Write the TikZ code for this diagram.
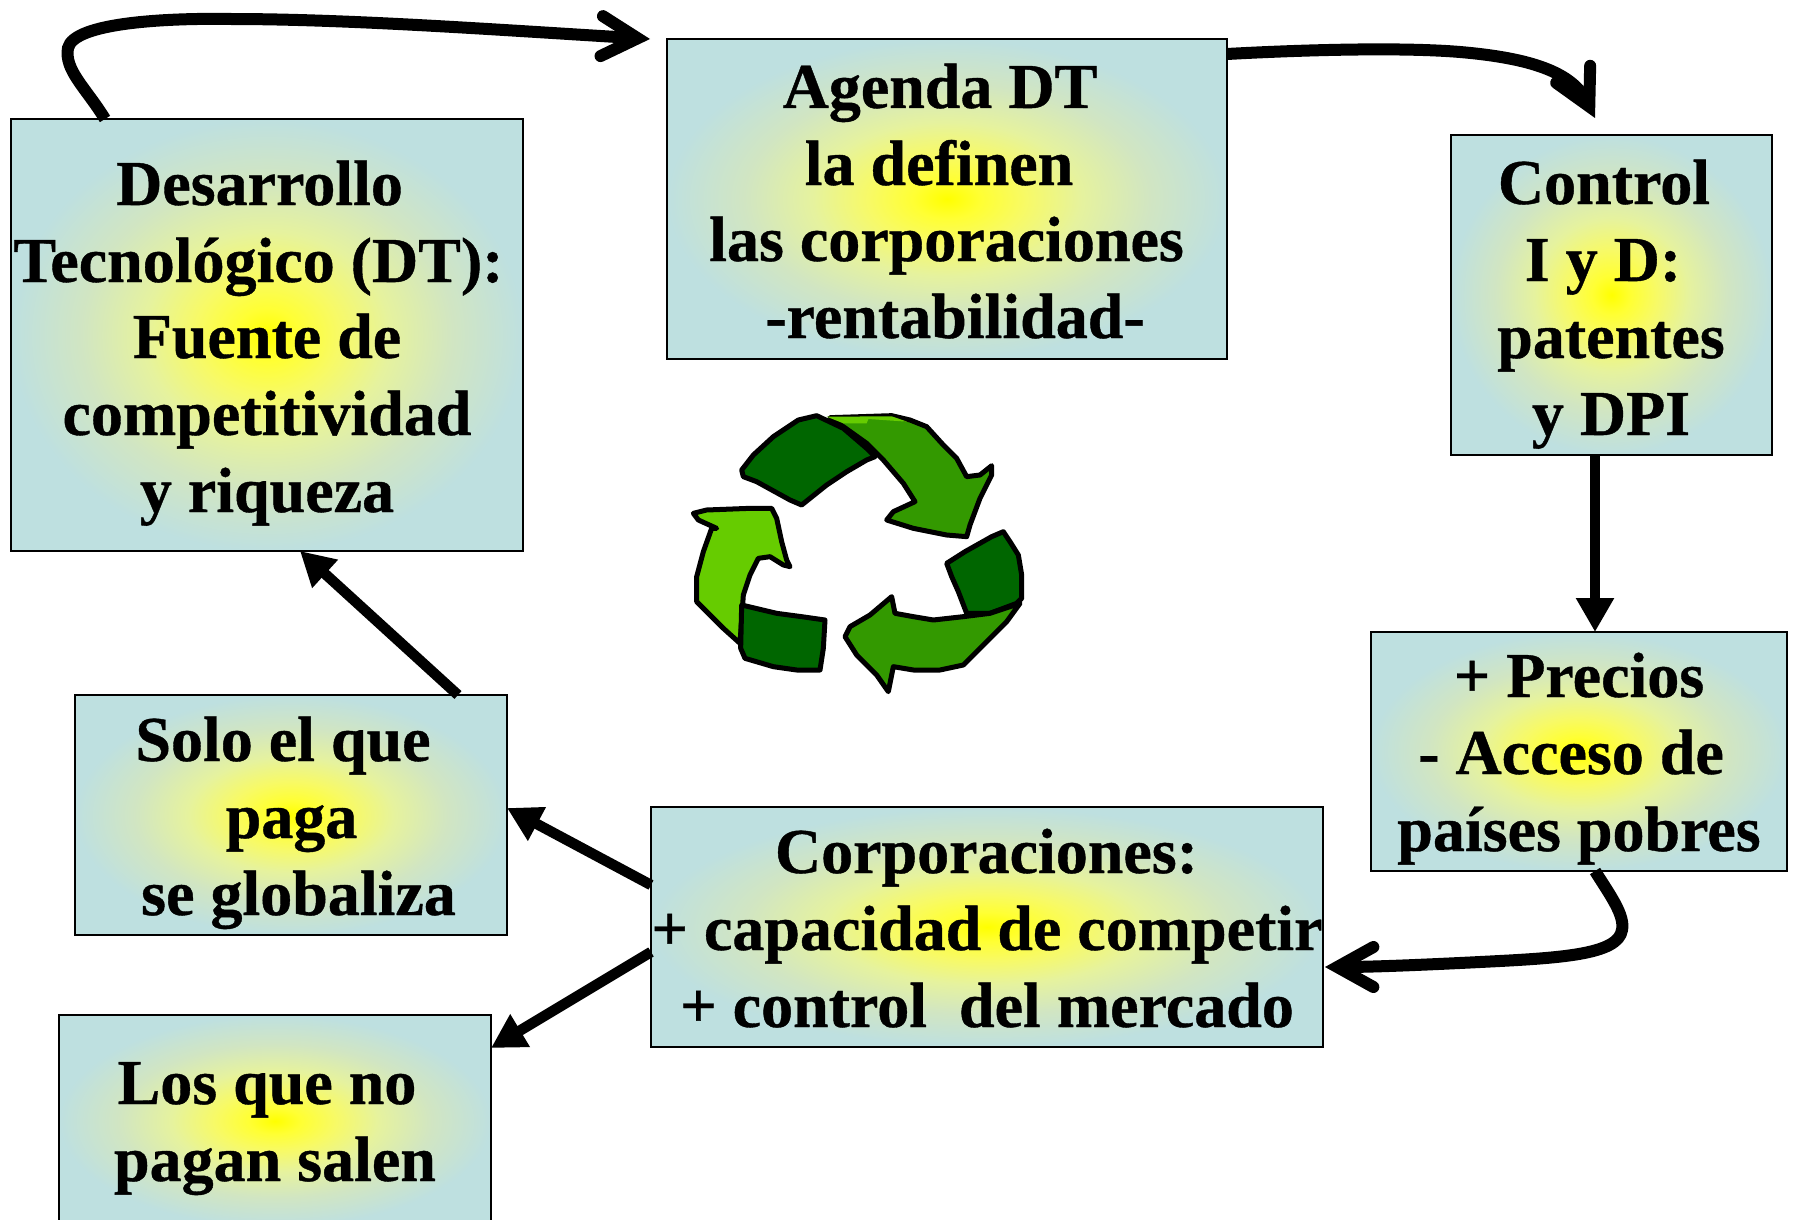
\documentclass[tikz,border=0pt]{standalone}
\usepackage{fontspec}
\setmainfont[BoldFeatures={FakeBold=0.6}]{Liberation Serif}
\usetikzlibrary{arrows.meta}
\pgfdeclareradialshading{glow}{\pgfpointorigin}{%
 rgb(0bp)=(1,1,0);
 rgb(3bp)=(1,1,0.2);
 rgb(7bp)=(0.97,0.98,0.40);
 rgb(12bp)=(0.90,0.95,0.62);
 rgb(18bp)=(0.82,0.90,0.76);
 rgb(25bp)=(0.745,0.878,0.878);
 rgb(50bp)=(0.745,0.878,0.878)}
\definecolor{gdark}{RGB}{0,102,0}
\definecolor{gmid}{RGB}{51,153,0}
\definecolor{glight}{RGB}{102,204,0}
\tikzset{
 box/.style={draw=black,line width=2.2pt,shading=glow,rectangle,inner sep=0pt,outer sep=0pt},
 txt/.style={anchor=base,inner sep=0pt,font=\fontsize{64}{70}\selectfont\bfseries,text=black},
 curvearrow/.style={line width=12pt,-{Straight Barb[length=36pt,width=40pt,line cap=round,line join=miter]}},
 smallcurvearrow/.style={line width=12pt,-{Straight Barb[length=36pt,width=38pt,line cap=round,line join=miter]}},
 straightarrow/.style={line width=10.5pt,-{Triangle[length=34pt,width=36pt]}},
 leaf/.style={draw=black,line width=5pt,line join=round}
}
\begin{document}
\begin{tikzpicture}[x=1pt,y=-1pt]
\useasboundingbox (0,0) rectangle (1798,1220);
\fill[white] (0,0) rectangle (1798,1220);
% boxes
\node[box,minimum width=512pt,minimum height=432pt] (A) at (267,335) {};
\node[box,minimum width=560pt,minimum height=320pt] (B) at (947,199) {};
\node[box,minimum width=321pt,minimum height=320pt] (C) at (1611.5,295) {};
\node[box,minimum width=416pt,minimum height=239pt] (D) at (1579,751.5) {};
\node[box,minimum width=672pt,minimum height=240pt] (E) at (987,927) {};
\node[box,minimum width=432pt,minimum height=240pt] (F) at (291,815) {};
\node[box,minimum width=432pt,minimum height=212pt] (G) at (275,1121) {};
% text
\node[txt] (A1) at (259.5,205) {Desarrollo};
\node[txt] (A2) at (258.5,282) {Tecnológico (DT):};
\node[txt] (A3) at (267,358) {Fuente de};
\node[txt] (A4) at (267,435) {competitividad};
\node[txt] (A5) at (267,512) {y riqueza};
\node[txt] (B1) at (940,108) {Agenda DT};
\node[txt] (B2) at (939,185) {la definen};
\node[txt] (B3) at (946.5,261) {las corporaciones};
\node[txt] (B4) at (955,338) {-rentabilidad-};
\node[txt] (C1) at (1604,204) {Control};
\node[txt] (C2) at (1603,281) {I y D:};
\node[txt] (C3) at (1611,358) {patentes};
\node[txt] (C4) at (1611,435) {y DPI};
\node[txt] (D1) at (1579,697) {+ Precios};
\node[txt] (D2) at (1571,774) {- Acceso de};
\node[txt] (D3) at (1579,851) {países pobres};
\node[txt] (E1) at (986.5,873) {Corporaciones:};
\node[txt] (E2) at (987,950) {+ capacidad de competir};
\node[txt] (E3) at (987,1027) {+ control\ \ del mercado};
\node[txt] (F1) at (283,761) {Solo el que};
\node[txt] (F2) at (291.5,838) {paga};
\node[txt] (F3) at (298.5,915) {se globaliza};
\node[txt] (G1) at (267,1104) {Los que no};
\node[txt] (G2) at (275,1181) {pagan salen};
% connectors
\draw[curvearrow] ([xshift=94pt]A.north west) .. controls (86,88) and (64,70) .. (68,48)
  .. controls (74,22) and (170,18) .. (230,19) .. controls (350,19) and (500,30) .. ([xshift=-17pt]B.north west);
\draw[smallcurvearrow] ([yshift=-15pt]B.north east) .. controls (1300,50) and (1400,47) .. (1460,52)
  .. controls (1530,58) and (1572,72) .. ([xshift=144pt,yshift=17pt]C.north west);
\draw[straightarrow] ([xshift=144pt]C.south west) -- ([xshift=224pt]D.north west);
\draw[curvearrow] ([xshift=224pt]D.south west) .. controls (1610,895) and (1625,915) .. (1622,930)
  .. controls (1618,955) and (1560,958) .. (1480,962) .. controls (1420,965) and (1370,967) .. ([yshift=-40pt,xshift=2pt]E.east);
\draw[straightarrow] ([yshift=-78pt]E.north west) -- ([yshift=-113pt]F.north east);
\draw[straightarrow] ([yshift=-145pt]E.north west) -- ([yshift=-33pt]G.north east);
\draw[straightarrow] ([xshift=383pt]F.north west) -- ([xshift=289pt]A.south west);
% recycling symbol
\begin{scope}[xshift=670pt,yshift=-395pt,x=0.33333pt,y=-0.33333pt]
\draw[leaf,fill=gdark] (215,225)--(250,180)--(310,125)--(385,75)--(440,62)--(520,100)--(590,160)--(615,185)--(590,195)--(530,230)--(470,270)--(395,330)--(360,315)--(260,260)--(220,245)--cycle;
\draw[leaf,fill=gmid] (480,68)--(665,62)--(720,75)--(770,95)--(820,150)--(860,190)--(890,245)--(930,240)--(965,212)--(965,240)--(930,310)--(900,390)--(890,425)--(830,420)--(730,400)--(650,375)--(670,350)--(735,320)--(700,265)--(640,195)--(590,145)--(520,95)--cycle;
\fill[glight] (470,65)--(665,64)--(712,80)--(595,72)--(590,85)--(520,85)--cycle;
\draw[leaf,fill=glight] (70,355)--(110,345)--(240,340)--(305,340)--(320,370)--(335,440)--(350,495)--(360,515)--(340,510)--(300,485)--(265,490)--(240,540)--(220,600)--(210,745)--(160,700)--(110,650)--(80,620)--(80,545)--(100,470)--(125,400)--(140,400)--(85,375)--cycle;
\draw[leaf,fill=gdark] (215,630)--(320,655)--(395,665)--(465,675)--(460,760)--(450,825)--(380,825)--(310,815)--(225,790)--(212,760)--cycle;
\draw[leaf,fill=gdark] (830,505)--(885,470)--(965,425)--(1000,410)--(1020,440)--(1045,480)--(1055,540)--(1055,610)--(1040,625)--(960,655)--(890,655)--(865,590)--(845,545)--cycle;
\draw[leaf,fill=gmid] (525,725)--(540,695)--(600,660)--(665,605)--(675,655)--(730,665)--(790,675)--(880,665)--(960,655)--(1050,625)--(1010,680)--(960,730)--(920,770)--(880,810)--(810,825)--(730,825)--(670,815)--(655,890)--(620,840)--(560,780)--cycle;
\end{scope}
\end{tikzpicture}
\end{document}
